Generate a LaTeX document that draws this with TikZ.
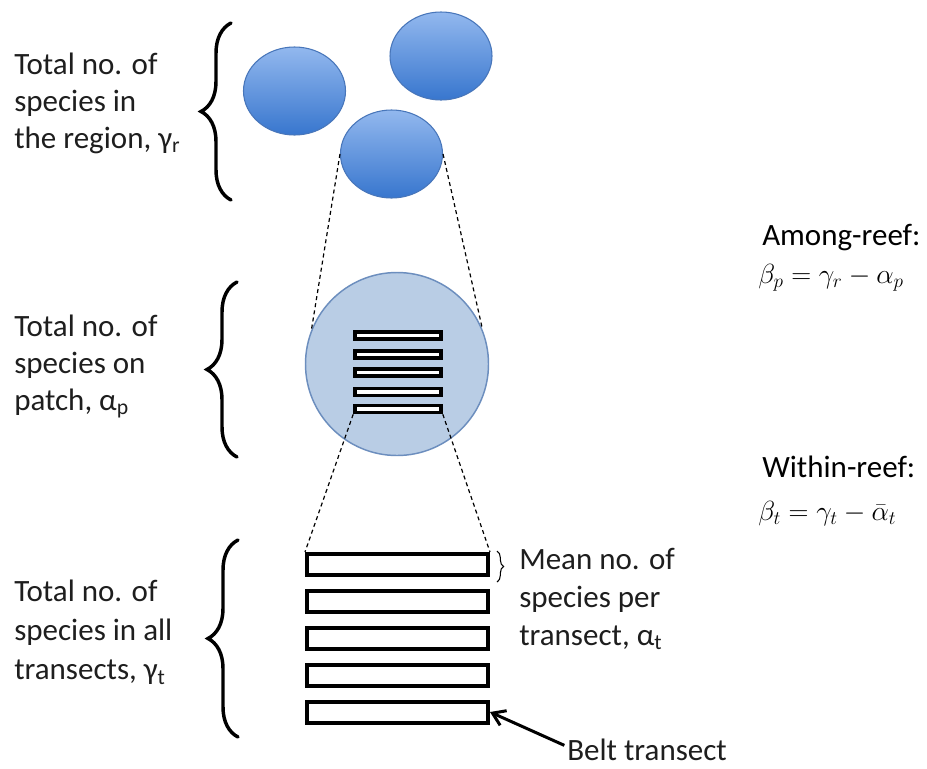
\documentclass[tikz,border=0pt]{standalone}
\usepackage{fontspec}
\setmainfont{Carlito}
\usetikzlibrary{shapes.geometric,decorations.pathreplacing,arrows.meta}
\def\PX{0.75pt}
\definecolor{txt}{HTML}{1E1E1E}
\definecolor{blobtop}{RGB}{146,184,238}
\definecolor{blobbot}{RGB}{56,118,206}
\definecolor{blobline}{RGB}{72,118,186}
\definecolor{patchfill}{RGB}{185,205,229}
\definecolor{patchline}{RGB}{108,142,190}
\begin{document}
\begin{tikzpicture}[x=0.75pt,y=-0.75pt,
  lbl/.style={anchor=base west, inner sep=0pt, text=txt, font=\fontsize{23.25}{27.75}\selectfont},
  eqn/.style={anchor=base west, inner sep=0pt, text=black, font=\fontsize{21.5}{26}\selectfont},
  blob/.style={ellipse, draw=blobline, line width=0.8pt, top color=blobtop, bottom color=blobbot, inner sep=0pt, minimum width=102*\PX, minimum height=88*\PX},
  patch/.style={circle, draw=patchline, line width=1.1pt, fill=patchfill, inner sep=0pt, minimum size=183*\PX},
  bigrect/.style={rectangle, draw=black, line width=3pt, fill=white, inner sep=0pt, minimum width=181*\PX, minimum height=21*\PX},
  smallrect/.style={rectangle, draw=black, line width=2.7pt, fill=white, inner sep=0pt, minimum width=86*\PX, minimum height=7*\PX},
  bigbrace/.style={decorate, decoration={brace, amplitude=22.5pt}, line width=2.6pt, line cap=round},
  smallbrace/.style={decorate, decoration={brace, amplitude=5pt}, line width=0.8pt},
  dline/.style={dash pattern=on 3pt off 2.4pt, line width=0.9pt}
]
\fill[white] (0,0) rectangle (927,768);
\useasboundingbox (0,0) rectangle (927,768);

% region blobs
\node[blob] (e1) at (294.5,91) {};
\node[blob] (e2) at (441,56) {};
\node[blob] (e3) at (391.5,154) {};

% patch
\node[patch] (pc) at (397,364) {};
\draw[dline] (e3.west) -- (pc.158);
\draw[dline] (e3.east) -- (pc.22);

\node[smallrect] (s1) at (398,335.5) {};
\node[smallrect] (s2) at (398,354.5) {};
\node[smallrect] (s3) at (398,372.5) {};
\node[smallrect] (s4) at (398,392) {};
\node[smallrect] (s5) at (398,409) {};

% transects
\node[bigrect] (b1) at (397.5,564.5) {};
\node[bigrect] (b2) at (397.5,601.5) {};
\node[bigrect] (b3) at (397.5,638.5) {};
\node[bigrect] (b4) at (397.5,675.5) {};
\node[bigrect] (b5) at (397.5,712) {};
\draw[dline] (s5.south west) -- (b1.north west);
\draw[dline] (s5.south east) -- (b1.north east);

% braces
\draw[bigbrace] (231,200) -- (231,23);
\draw[bigbrace] (237,457) -- (237,282);
\draw[bigbrace] (238,737) -- (238,540);
\draw[smallbrace] (497,551) -- (497,582);

% left labels
\node[lbl] (t1) at (14,74) {\parbox[t]{200pt}{Total no. of\\species in\\the region, γ\textsubscript{r}}};
\node[lbl] (t2) at (14,336) {\parbox[t]{200pt}{Total no. of\\species on\\patch, α\textsubscript{p}}};
\node[lbl, font=\fontsize{23.25}{29.6}\selectfont] (t3) at (14,601) {\parbox[t]{200pt}{Total no. of\\species in all\\transects, γ\textsubscript{t}}};

% right labels
\node[lbl, font=\fontsize{23.25}{28.5}\selectfont] (t4) at (519,569) {\parbox[t]{200pt}{Mean no. of\\species per\\transect, α\textsubscript{t}}};
\node[lbl] (belt) at (567,760) {Belt transect};
\draw[line width=2.25pt, -{Straight Barb[length=9pt,width=12pt,line width=2.25pt]}] ([xshift=-2pt,yshift=3pt]belt.west) -- (b5.east);

\node[lbl, text=black] (am) at (762,245) {Among-reef:};
\node[eqn] (eq1) at (758,283) {$\beta_p = \gamma_r - \alpha_p$};
\node[lbl, text=black] (wi) at (762,477) {Within-reef:};
\node[eqn] (eq2) at (758,520) {$\beta_t = \gamma_t - \bar{\alpha}_t$};
\end{tikzpicture}
\end{document}
